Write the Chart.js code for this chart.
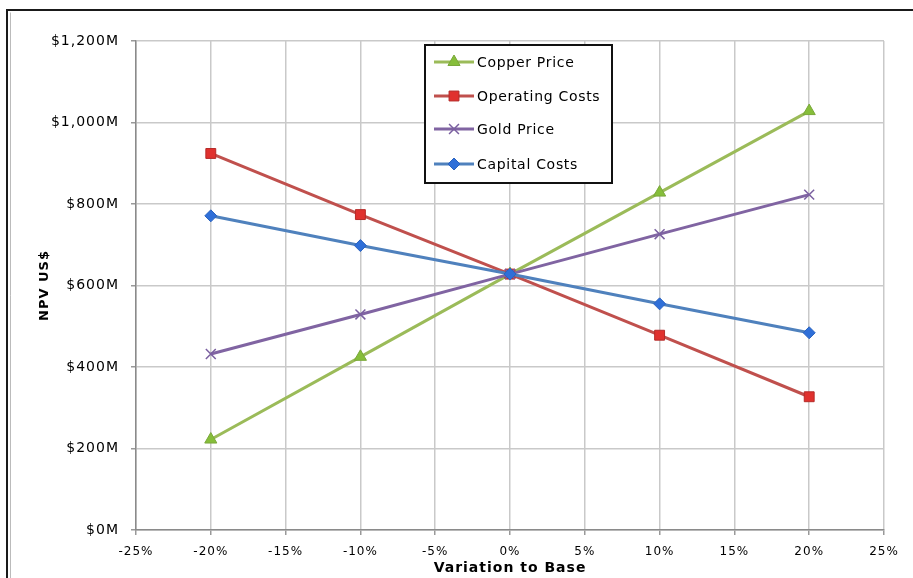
<!DOCTYPE html>
<html>
<head>
<meta charset="utf-8">
<script src="https://cdn.jsdelivr.net/npm/chart.js@4/dist/chart.umd.min.js"></script>
<style>
  html, body { margin: 0; padding: 0; background: #fff; }
  #wrap { width: 913px; height: 578px; position: relative; }
</style>
</head>
<body>
<div id="wrap"><canvas id="myChart" width="913" height="578"></canvas></div>
<script>
const ctx = document.getElementById("myChart");

// variation to base (fraction) and NPV in $M
const variation = [-0.2, -0.1, 0, 0.1, 0.2];
const copper_price = [222, 425, 628, 828, 1028];
const operating_costs = [924, 774, 628, 478, 327];
const gold_price = [432, 529, 628, 726, 823];
const capital_costs = [771, 698, 628, 555, 484];

const series_names = ["Copper Price", "Operating Costs", "Gold Price", "Capital Costs"];
const x_ticks = [-25, -20, -15, -10, -5, 0, 5, 10, 15, 20, 25];
const y_ticks = [0, 200, 400, 600, 800, 1000, 1200];

const FONT = "'DejaVu Sans', sans-serif";

function pts(vals) {
  return variation.map((v, i) => ({ x: v, y: vals[i] }));
}

function fmtMoney(v) {
  return "$" + v.toLocaleString("en-US") + "M";
}

const spacing = {
  id: "spacing",
  beforeUpdate(chart) { chart.ctx.letterSpacing = "1px"; },
  beforeDraw(chart) {
    const c = chart.ctx;
    c.save();
    c.fillStyle = "#fff";
    c.fillRect(0, 0, chart.width, chart.height);
    // outer frame
    c.strokeStyle = "#1a1a1a";
    c.lineWidth = 2;
    c.beginPath();
    c.moveTo(7, chart.height);
    c.lineTo(7, 10);
    c.lineTo(chart.width, 10);
    c.stroke();
    c.strokeStyle = "#bbb";
    c.lineWidth = 1;
    c.beginPath();
    c.moveTo(10.5, chart.height);
    c.lineTo(10.5, 12.5);
    c.stroke();
    c.restore();
    c.letterSpacing = "1px";
  }
};

function drawMarker(c, style, r, x, y) {
  Chart.helpers.drawPoint(c, { pointStyle: style, radius: r, borderWidth: c.lineWidth, rotation: 0 }, x, y);
}

const boxLegend = {
  id: "boxLegend",
  afterDraw(chart) {
    const c = chart.ctx;
    const left = 425, top = 45, w = 187, h = 138;
    c.save();
    c.fillStyle = "#fff";
    c.fillRect(left, top, w, h);
    c.strokeStyle = "#111";
    c.lineWidth = 2;
    c.strokeRect(left, top, w, h);
    const rows = [62, 96, 129, 164];
    chart.data.datasets.forEach((ds, i) => {
      const y = rows[i];
      c.strokeStyle = ds.borderColor;
      c.lineWidth = 3;
      c.beginPath();
      c.moveTo(434, y);
      c.lineTo(474, y);
      c.stroke();
      c.fillStyle = ds.pointBackgroundColor;
      c.strokeStyle = ds.pointBorderColor;
      c.lineWidth = ds.pointBorderWidth;
      drawMarker(c, ds.pointStyle, ds.pointRadius, 454, y);
      c.fillStyle = "#000";
      c.font = "14px " + FONT;
      c.textBaseline = "middle";
      c.textAlign = "left";
      c.letterSpacing = "0.7px";
      c.fillText(ds.label, 477, y + 1);
    });
    c.restore();
  }
};

new Chart(ctx, {
  type: "line",
  data: {
    datasets: [
      {
        label: series_names[0],
        data: pts(copper_price),
        borderColor: "#9BBB59",
        borderWidth: 3,
        pointStyle: "triangle",
        pointRadius: 7,
        pointBackgroundColor: "#86BE3A",
        pointBorderColor: "#7AA83A",
        pointBorderWidth: 1,
        order: 3
      },
      {
        label: series_names[1],
        data: pts(operating_costs),
        borderColor: "#C0504D",
        borderWidth: 3,
        pointStyle: "rect",
        pointRadius: 7,
        pointBackgroundColor: "#E0312E",
        pointBorderColor: "#B52A28",
        pointBorderWidth: 1,
        order: 2
      },
      {
        label: series_names[2],
        data: pts(gold_price),
        borderColor: "#8064A2",
        borderWidth: 3,
        pointStyle: "crossRot",
        pointRadius: 7,
        pointBackgroundColor: "#8064A2",
        pointBorderColor: "#7A5FA0",
        pointBorderWidth: 1.5,
        order: 1
      },
      {
        label: series_names[3],
        data: pts(capital_costs),
        borderColor: "#4F81BD",
        borderWidth: 3,
        pointStyle: "rectRot",
        pointRadius: 6,
        pointBackgroundColor: "#2F6FD8",
        pointBorderColor: "#2A63C0",
        pointBorderWidth: 1,
        order: 0
      }
    ]
  },
  options: {
    responsive: false,
    animation: false,
    layout: { padding: { left: 37, right: 29, top: 41, bottom: 0 } },
    plugins: {
      legend: { display: false },
      tooltip: { enabled: false }
    },
    scales: {
      x: {
        type: "linear",
        min: -0.25,
        max: 0.25,
        afterFit(scale) { scale.height = 48; },
        afterBuildTicks(scale) {
          scale.ticks = x_ticks.map((v) => ({ value: v / 100 }));
        },
        ticks: {
          autoSkip: false,
          maxRotation: 0,
          padding: 10,
          color: "#000",
          font: { family: FONT, size: 12 },
          callback: (v) => Math.round(v * 100) + "%"
        },
        grid: { color: "#c9c9c9", lineWidth: 1.5, tickLength: 5, tickColor: "#999" },
        border: { color: "#8a8a8a", width: 1.5 },
        title: {
          display: true,
          text: "Variation to Base",
          color: "#000",
          font: { family: FONT, size: 14, weight: "bold" },
          padding: { top: 0, bottom: 1 }
        }
      },
      y: {
        min: 0,
        max: 1200,
        afterFit(scale) { scale.width = 99; },
        afterBuildTicks(scale) {
          scale.ticks = y_ticks.map((v) => ({ value: v }));
        },
        ticks: {
          padding: 12,
          color: "#000",
          font: { family: FONT, size: 14 },
          callback: (v) => fmtMoney(v)
        },
        grid: { color: "#c9c9c9", lineWidth: 1.5, tickLength: 5, tickColor: "#999" },
        border: { color: "#8a8a8a", width: 1.5 },
        title: {
          display: true,
          text: "NPV US$",
          color: "#000",
          font: { family: FONT, size: 13, weight: "bold" },
          padding: 0
        }
      }
    }
  },
  plugins: [spacing, boxLegend]
});
</script>
</body>
</html>
